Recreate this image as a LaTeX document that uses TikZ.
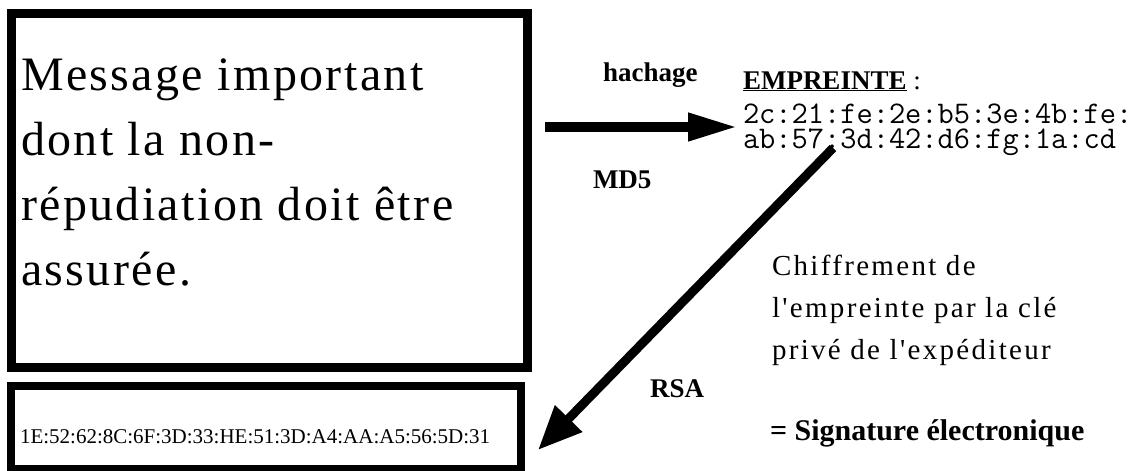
\documentclass[tikz,border=0pt]{standalone}
\usepackage{fontspec}
\setmainfont{Liberation Serif}
\newfontfamily\msgfont[LetterSpace=5]{Liberation Serif}
\newfontfamily\notefont[LetterSpace=8]{Liberation Serif}
\usetikzlibrary{arrows.meta}

\begin{document}
\begin{tikzpicture}[x=1pt,y=-1pt,
    every node/.style={inner sep=0pt,outer sep=0pt},
    box/.style={draw,line width=9pt,anchor=north west},
    lbl/.style={anchor=base west,font=\fontsize{27}{27}\selectfont\bfseries},
    hexa/.style={anchor=base west,align=left,font=\ttfamily\fontsize{31.5}{25}\selectfont},
    note/.style={anchor=base west,font=\notefont\fontsize{29}{42}\selectfont},
    fat/.style={line width=10pt,-{Triangle[length=50pt,width=26pt]}},
    fatdiag/.style={line width=9pt,-{Triangle[length=44pt,width=36pt]}}]
  \useasboundingbox (0,0) rectangle (1141,471);

  % message et signature
  \node[box,minimum width=516pt,minimum height=354pt] (msg) at (11,13.5) {};
  \node[anchor=base west,align=left,font=\msgfont\fontsize{48}{65}\selectfont]
    (msgtext) at (21,285) {Message important\\dont la non-\\répudiation doit être\\assurée.};
  \node[box,line width=8pt,minimum width=510pt,minimum height=83pt] (sig) at (11,386) {};
  \node[anchor=base west,font=\fontsize{21}{21}\selectfont]
    (sigtext) at (20,443) {1E:52:62:8C:6F:3D:33:HE:51:3D:A4:AA:A5:56:5D:31};

  % empreinte
  \node[lbl] (emp) at (743,89) {\underline{EMPREINTE}\mdseries\ :};
  \node[hexa] (hex) at (743,148) {2c:21:fe:2e:b5:3e:4b:fe:\\ab:57:3d:42:d6:fg:1a:cd};

  \node[lbl] (hach) at (603,81) {hachage};
  \node[lbl] (md5) at (593,188) {MD5};
  \node[lbl] (rsa) at (650,397) {RSA};

  \node[note] (chiff) at (772,275) {Chiffrement de};
  \node[note] (chiff2) at (772,317) {l'empreinte par la clé};
  \node[note] (chiff3) at (772,359) {privé de l'expéditeur};
  \node[anchor=base west,font=\fontsize{30}{30}\selectfont\bfseries]
    (signat) at (770,440) {= Signature électronique};

  \coordinate (h1) at (545,127);
  \coordinate (h2) at (738,127);
  \coordinate (d1) at (833,148);
  \coordinate (d2) at (538,450);
  \draw[fat] (h1) -- (h2);
  \draw[fatdiag] (d1) -- (d2);
\end{tikzpicture}
\end{document}
